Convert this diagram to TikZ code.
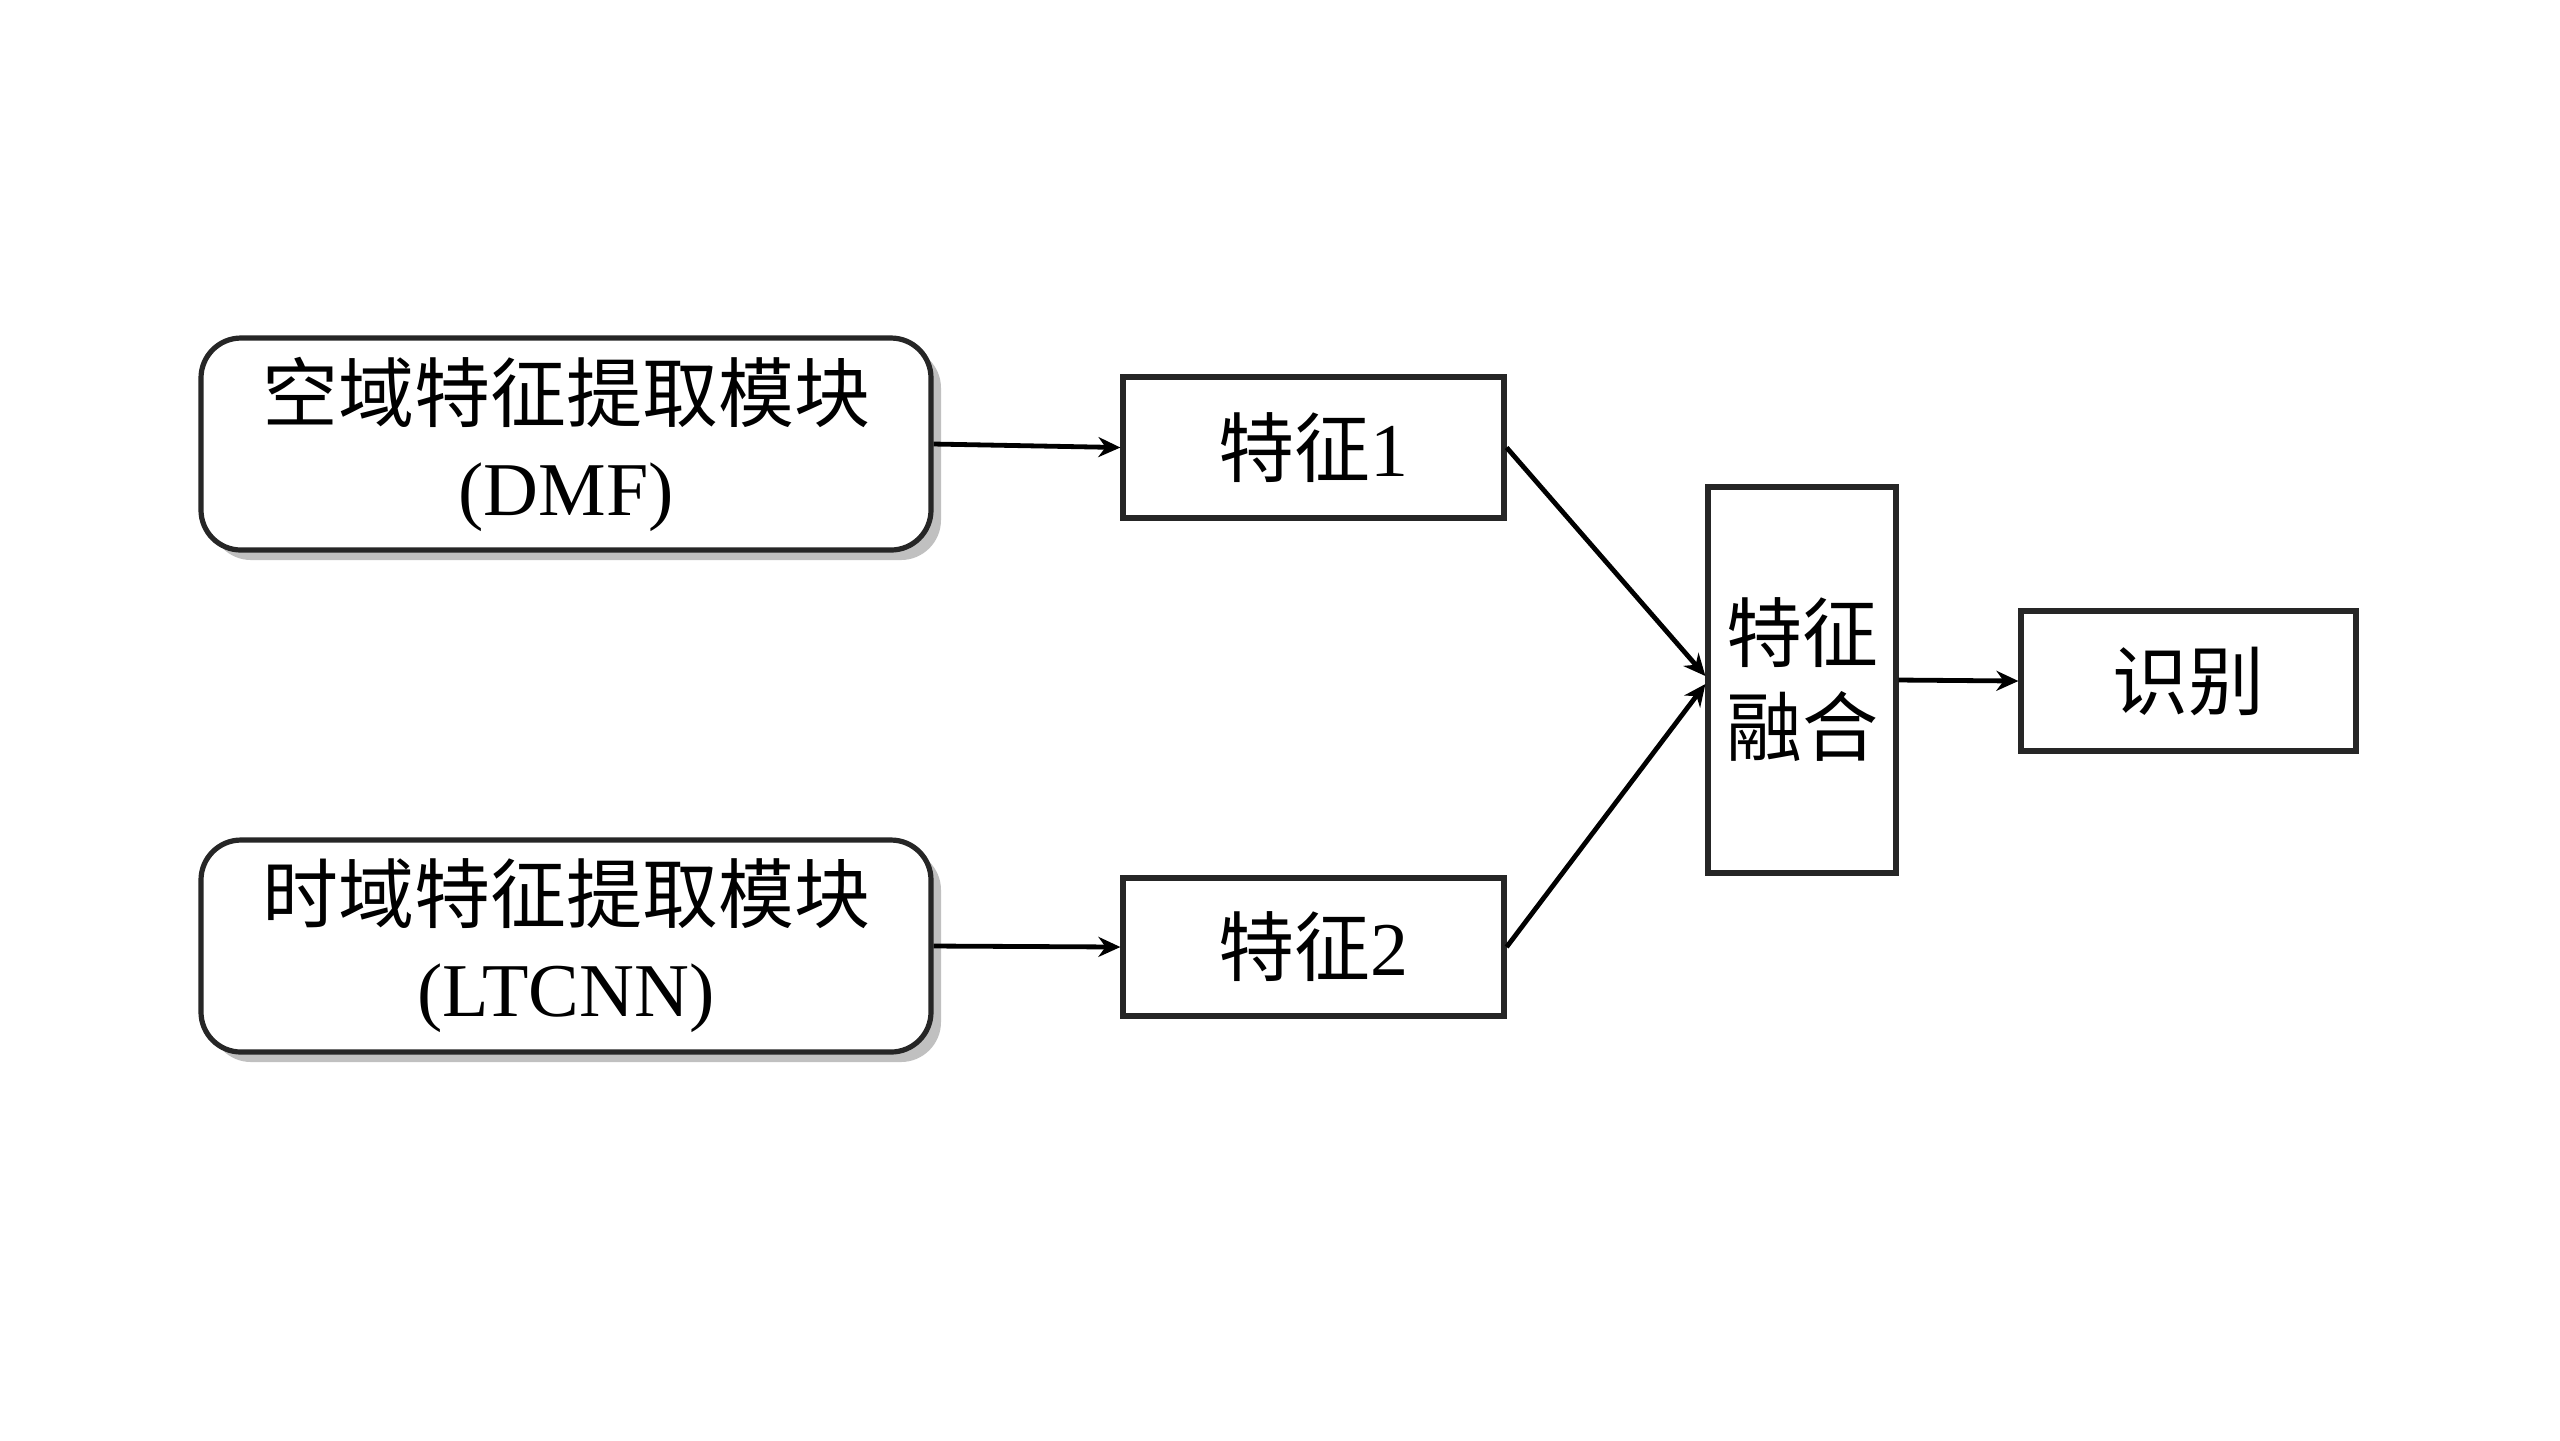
\documentclass[tikz,border=0pt]{standalone}
\usepackage{fontspec}
\setmainfont{Liberation Serif}
\newfontfamily\cjk{Noto Sans CJK SC}
\usetikzlibrary{arrows.meta,shadows}
\begin{document}
\begin{tikzpicture}[x=0.25pt,y=-0.25pt,
  every node/.style={font=\fontsize{19}{23.5}\selectfont, align=center, inner sep=0pt},
  modbox/.style={draw=black!85, line width=1.3pt, rounded corners=10pt, fill=white,
    minimum width=182.5pt, minimum height=53pt,
    drop shadow={shadow xshift=2.5pt, shadow yshift=-2.5pt, fill=black!35, opacity=0.7}},
  featbox/.style={draw=black!85, line width=1.3pt, fill=white},
  conn/.style={line width=1.2pt, -{Stealth[length=5.5pt,width=5pt]}}
]
\useasboundingbox (0,0) rectangle (2560,1440);
\fill[white] (0,0) rectangle (2560,1440);

\node[modbox] (b1) at (566,444) {{\cjk 空域特征提取模块}\\(DMF)};
\node[modbox] (b2) at (566,946) {{\cjk 时域特征提取模块}\\(LTCNN)};
\node[featbox, minimum width=95.25pt, minimum height=35.25pt] (f1) at (1313.5,447.5) {{\cjk 特征}1};
\node[featbox, minimum width=95.25pt, minimum height=34.5pt] (f2) at (1313.5,947) {{\cjk 特征}2};
\node[featbox, minimum width=47pt, minimum height=96.5pt] (fu) at (1802,680) {{\cjk 特征}\\{\cjk 融合}};
\node[featbox, minimum width=83.75pt, minimum height=35pt] (rc) at (2188.5,681) {\cjk 识别};

\draw[conn] (b1.east) -- (f1.west);
\draw[conn] (b2.east) -- (f2.west);
\draw[conn] (f1.east) -- ([yshift=1pt]fu.west);
\draw[conn] (f2.east) -- ([yshift=-1pt]fu.west);
\draw[conn] (fu.east) -- (rc.west);
\end{tikzpicture}
\end{document}
